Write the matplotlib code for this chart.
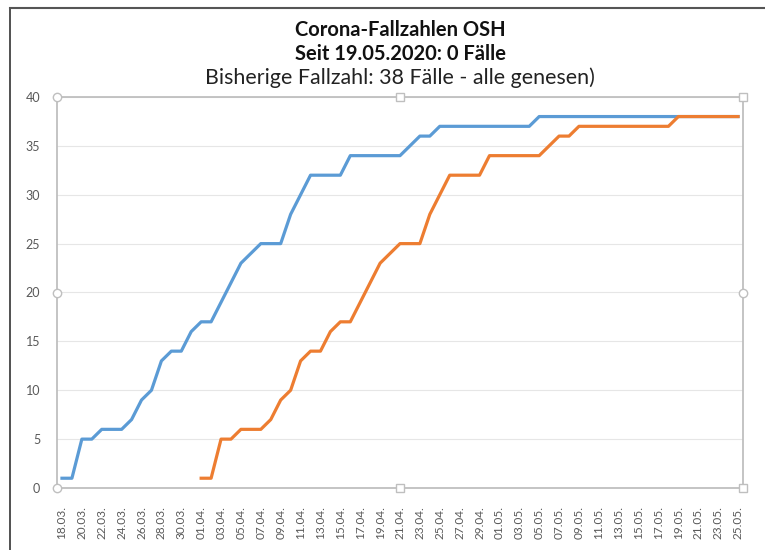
import numpy as np
import pandas as pd
import matplotlib
matplotlib.use("Agg")
import matplotlib.pyplot as plt
from matplotlib.lines import Line2D

plt.rcParams['font.family'] = ['Lato', 'DejaVu Sans']

# daily values 18.03. - 25.05.
dates = pd.date_range("2020-03-18", "2020-05-25", freq="D")
day_labels = [d.strftime("%d.%m.") for d in dates]

faelle = ([1, 1, 5, 5, 6, 6, 6, 7, 9, 10, 13, 14, 14, 16, 17, 17, 19, 21, 23, 24,
           25, 25, 25, 28, 30, 32, 32, 32, 32, 34, 34, 34, 34, 34, 34, 35, 36, 36, 37]
          + [37] * 9 + [38] * 21)
genesen = ([np.nan] * 14
           + [1, 1, 5, 5, 6, 6, 6, 7, 9, 10, 13, 14, 14, 16, 17, 17, 19, 21, 23, 24,
              25, 25, 25, 28, 30, 32, 32, 32, 32, 34, 34, 34, 34, 34, 34, 35, 36, 36]
           + [37] * 10 + [38] * 7)

x = np.arange(len(dates))

fig = plt.figure(figsize=(7.65, 5.5), dpi=100)
ax = fig.add_axes([57 / 765, 62 / 550, 686 / 765, 391 / 550])

ax.plot(x, faelle, color='#5B9BD5', lw=2.3, solid_joinstyle='round')
ax.plot(x, genesen, color='#ED7D31', lw=2.3, solid_joinstyle='round')

ax.set_xlim(-0.5, len(dates) - 0.5)
ax.set_ylim(0, 40)
ax.set_yticks(range(0, 41, 5))
ax.set_xticks(x[::2])
ax.set_xticklabels(day_labels[::2], rotation=90)
ax.tick_params(axis='x', length=0, pad=13, labelsize=8.5, labelcolor='#595959')
ax.tick_params(axis='y', length=0, pad=12, labelsize=9, labelcolor='#595959')
ax.grid(axis='y', color='#E6E6E6', lw=0.8)
ax.set_axisbelow(True)
for s in ax.spines.values():
    s.set_color('#BFBFBF')
    s.set_linewidth(1.3)

# selection handles around plot area
for hx, hy, m in [(0, 0, 'o'), (0, 0.5, 'o'), (0, 1, 'o'), (0.5, 1, 's'),
                  (1, 1, 's'), (1, 0.5, 'o'), (1, 0, 's'), (0.5, 0, 's')]:
    ax.plot(hx, hy, marker=m, ms=6, mfc='white', mec='#BFBFBF', mew=1,
            transform=ax.transAxes, clip_on=False, zorder=5)

# outer frame (top and left edge)
fig.add_artist(Line2D([10 / 765, 10 / 765], [0, 1 - 8 / 550], color='#333333', lw=1.2))
fig.add_artist(Line2D([10 / 765, 1], [1 - 8 / 550, 1 - 8 / 550], color='#555555', lw=1.5))

fig.text(0.523, 1 - 30 / 550, 'Corona-Fallzahlen OSH', ha='center', va='center',
         fontsize=14.5, fontweight='bold', color='#111111')
fig.text(0.523, 1 - 54 / 550, 'Seit 19.05.2020: 0 Fälle', ha='center', va='center',
         fontsize=14.5, fontweight='bold', color='#111111')
fig.text(0.523, 1 - 78 / 550, 'Bisherige Fallzahl: 38 Fälle - alle genesen)', ha='center',
         va='center', fontsize=15.4, color='#222222')

fig.savefig('out.png', dpi=100)
